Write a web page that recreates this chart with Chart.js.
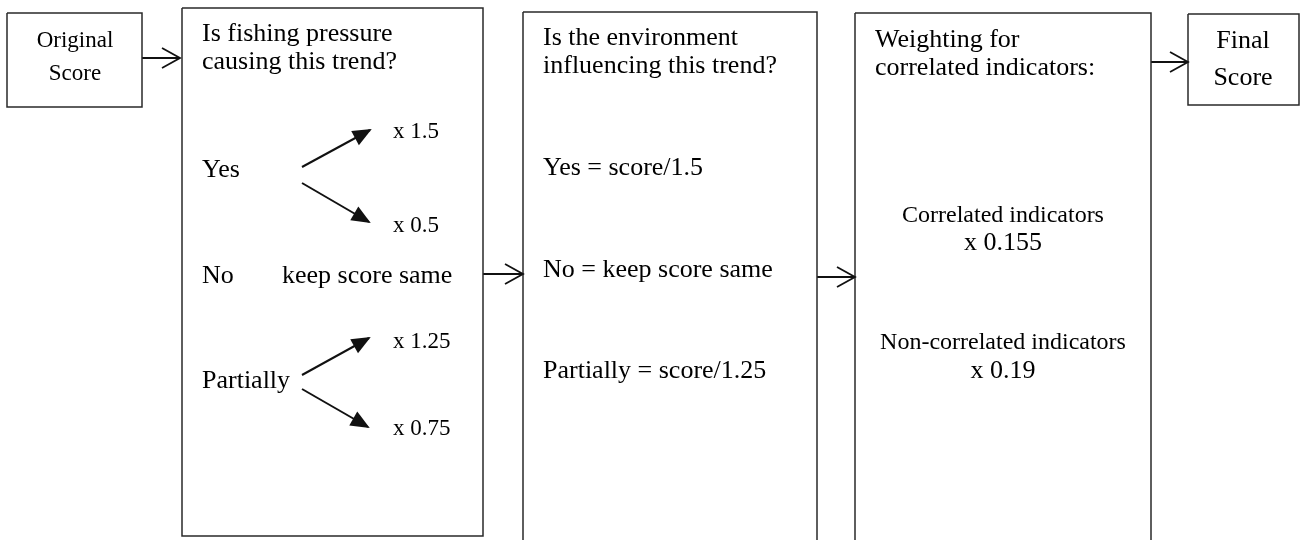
<!DOCTYPE html>
<html>
<head>
<meta charset="utf-8">
<script src="https://cdn.jsdelivr.net/npm/chart.js@4.4.1/dist/chart.umd.min.js"></script>
<style>
  html, body { margin: 0; padding: 0; background: #fff; }
  #wrap { width: 1301px; height: 540px; }
</style>
</head>
<body>
<div id="wrap"><canvas id="flowChart" width="1301" height="540"></canvas></div>
<script>
// diagram units: x 0..1301 left to right, y 0..540 top to bottom
const boxNames = ['Original', 'Fishing', 'Environment', 'Weighting', 'Final'];
const boxLeft = [7, 182, 523, 855, 1188];
const boxRight = [142, 483, 817, 1151, 1299];
const boxTop = [13, 8, 12, 13, 14];
const boxBottom = [107, 536, 545, 545, 105];

// connectors between the boxes (open heads) and inside the first question (filled heads)
const arrowFrom = [[142, 58], [483, 274], [817, 277], [1151, 62], [302, 167], [302, 183], [302, 375], [302, 389]];
const arrowTo = [[180, 58], [523, 274], [855, 277], [1188, 62], [370, 130], [369, 222], [369, 338], [368, 427]];
const arrowHead = ['open', 'open', 'open', 'open', 'filled', 'filled', 'filled', 'filled'];

// text: content, anchor x, baseline y, size, align
const labelText = [
    'Original', 'Score',
    'Is fishing pressure', 'causing this trend?',
    'x 1.5', 'Yes', 'x 0.5', 'No', 'keep score same',
    'x 1.25', 'Partially', 'x 0.75',
    'Is the environment', 'influencing this trend?',
    'Yes = score/1.5', 'No = keep score same', 'Partially = score/1.25',
    'Weighting for', 'correlated indicators:',
    'Correlated indicators', 'x 0.155', 'Non-correlated indicators', 'x 0.19',
    'Final', 'Score'
];
const labelX = [
    75, 75,
    202, 202,
    393, 202, 393, 202, 282,
    393, 202, 393,
    543, 543,
    543, 543, 543,
    875, 875,
    1003, 1003, 1003, 1003,
    1243, 1243
];
const labelY = [
    47, 80,
    41, 69,
    138, 177, 232, 283, 283,
    348, 388, 435,
    45, 73,
    175, 277, 378,
    47, 75,
    222, 250, 349, 378,
    48, 85
];
const labelSize = [
    23, 23,
    26, 26,
    23, 26, 23, 26, 26,
    23, 26, 23,
    26, 26,
    26, 26, 26,
    26, 26,
    24, 26, 24, 26,
    26, 26
];
const labelAlign = [
    'center', 'center',
    'left', 'left',
    'left', 'left', 'left', 'left', 'left',
    'left', 'left', 'left',
    'left', 'left',
    'left', 'left', 'left',
    'left', 'left',
    'center', 'center', 'center', 'center',
    'center', 'center'
];

const ink = '#111';

const boxSets = boxNames.map((name, i) => ({
    label: name,
    data: [
        { x: boxLeft[i], y: boxTop[i] },
        { x: boxRight[i], y: boxTop[i] },
        { x: boxRight[i], y: boxBottom[i] },
        { x: boxLeft[i], y: boxBottom[i] },
        { x: boxLeft[i], y: boxTop[i] }
    ],
    showLine: true,
    borderColor: '#2a2a2a',
    borderWidth: 1.5,
    pointRadius: 0,
    tension: 0
}));

const arrowSets = arrowFrom.map((p, i) => ({
    label: 'arrow' + i,
    data: [{ x: p[0], y: p[1] }, { x: arrowTo[i][0], y: arrowTo[i][1] }],
    showLine: true,
    borderColor: ink,
    borderWidth: arrowHead[i] === 'filled' ? 2 : 1.8,
    pointRadius: 0,
    head: arrowHead[i]
}));

// heads drawn at the last point of each connector, after the library placed it
const arrowHeads = {
    id: 'arrowHeads',
    afterDatasetsDraw(chart) {
        const ctx = chart.ctx;
        chart.data.datasets.forEach((ds, i) => {
            if (!ds.head) return;
            const pts = chart.getDatasetMeta(i).data;
            const a = pts[0], b = pts[1];
            const ang = Math.atan2(b.y - a.y, b.x - a.x);
            ctx.save();
            ctx.translate(b.x, b.y);
            ctx.rotate(ang);
            ctx.strokeStyle = ink;
            ctx.fillStyle = ink;
            if (ds.head === 'open') {
                ctx.lineWidth = 1.8;
                ctx.beginPath();
                ctx.moveTo(-18, -10);
                ctx.lineTo(0, 0);
                ctx.lineTo(-18, 10);
                ctx.stroke();
            } else {
                ctx.beginPath();
                ctx.moveTo(2, 0);
                ctx.lineTo(-17, -8);
                ctx.lineTo(-17, 8);
                ctx.closePath();
                ctx.fill();
            }
            ctx.restore();
        });
    }
};

const boxLabels = {
    id: 'boxLabels',
    afterDraw(chart) {
        const { ctx, scales: { x, y } } = chart;
        ctx.save();
        ctx.fillStyle = '#000';
        ctx.textBaseline = 'alphabetic';
        labelText.forEach((t, i) => {
            ctx.font = labelSize[i] + 'px "Liberation Serif", "Times New Roman", serif';
            ctx.textAlign = labelAlign[i];
            ctx.fillText(t, x.getPixelForValue(labelX[i]), y.getPixelForValue(labelY[i]));
        });
        ctx.restore();
    }
};

new Chart(document.getElementById('flowChart'), {
    type: 'scatter',
    data: { datasets: boxSets.concat(arrowSets) },
    options: {
        responsive: false,
        animation: false,
        layout: { padding: 0 },
        plugins: {
            legend: { display: false },
            tooltip: { enabled: false }
        },
        scales: {
            x: { type: 'linear', min: 0, max: 1301, display: false },
            y: { type: 'linear', min: 0, max: 540, reverse: true, display: false }
        }
    },
    plugins: [arrowHeads, boxLabels]
});
</script>
</body>
</html>
